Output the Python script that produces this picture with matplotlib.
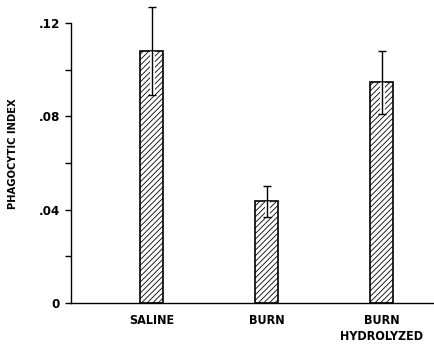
import matplotlib
matplotlib.use("Agg")
import matplotlib.pyplot as plt
from matplotlib.ticker import FixedLocator

groups = ["SALINE", "BURN", "BURN\nHYDROLYZED"]
means = [0.108, 0.0435, 0.0945]
errors = [0.019, 0.0065, 0.0133]
yticks = [0, 0.04, 0.08, 0.12]
ytick_labels = ["0", ".04", ".08", ".12"]
minor_ticks = [0.02, 0.06, 0.10]

plt.rcParams["font.family"] = ["DejaVu Sans"]
plt.rcParams["font.stretch"] = "condensed"
plt.rcParams["hatch.linewidth"] = 0.6

fig = plt.figure(figsize=(4.35, 3.48), dpi=100)
ax = fig.add_axes([71 / 435, 45 / 348, 1 - 71 / 435, (303 - 5) / 348])

xs = list(range(len(groups)))
ax.bar(xs, means, width=0.2, color="white", edgecolor="black",
       hatch="//////", linewidth=1.2, zorder=2)

# white gap under the lower half of the error bars
for x, m, e in zip(xs, means, errors):
    ax.plot([x, x], [m - e, m], color="white", lw=3.5, zorder=3,
            solid_capstyle="butt")
ax.errorbar(xs, means, yerr=errors, fmt="none", ecolor="black",
            elinewidth=1.0, capsize=3, capthick=1.0, zorder=4)

ax.set_xlim(-0.70, 2.465)
ax.set_ylim(0, 0.1277)

for s in ["top", "right"]:
    ax.spines[s].set_visible(False)
ax.spines["left"].set_bounds(0, 0.12)
ax.spines["left"].set_linewidth(1.0)
ax.spines["bottom"].set_linewidth(1.0)

ax.set_yticks(yticks)
ax.set_yticklabels(ytick_labels, fontweight="bold", fontsize=9.5)
ax.yaxis.set_minor_locator(FixedLocator(minor_ticks))
ax.tick_params(axis="y", which="both", direction="out", length=4, width=1.0,
               pad=4)

ax.set_xticks(xs)
ax.set_xticklabels(groups, fontsize=9, fontweight="bold", linespacing=1.25)
ax.tick_params(axis="x", length=0, pad=8)

ax.set_ylabel("PHAGOCYTIC INDEX", fontsize=8, fontweight="bold")
ax.yaxis.set_label_coords(-0.145, 0.5)

fig.savefig("out.png", dpi=100)
